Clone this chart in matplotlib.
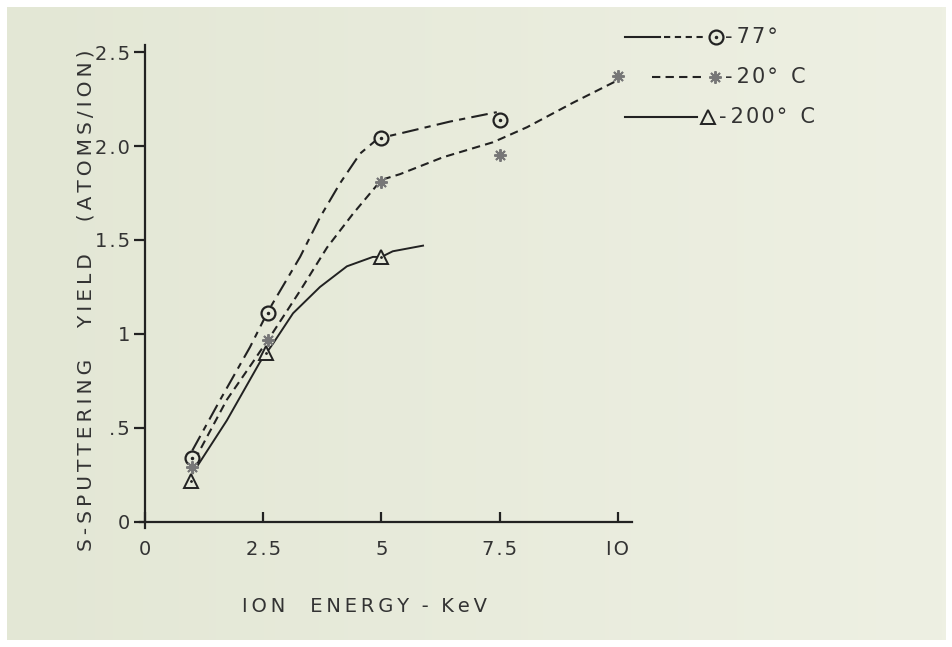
import numpy as np
import matplotlib.pyplot as plt
from matplotlib.lines import Line2D
from matplotlib.colors import LinearSegmentedColormap

# marker values
x_77 = [1.0, 2.6, 5.0, 7.5]
y_77 = [0.34, 1.11, 2.04, 2.14]
x_20 = [1.0, 2.6, 5.0, 7.5, 10.0]
y_20 = [0.29, 0.97, 1.81, 1.95, 2.37]
x_200 = [0.97, 2.55, 5.0]
y_200 = [0.22, 0.90, 1.41]

# hand-drawn curves, points
cx_77 = [1.0, 1.59, 2.22, 2.6, 3.28, 3.70, 4.12, 4.55, 4.93, 5.45, 6.45, 7.44]
cy_77 = [0.38, 0.65, 0.93, 1.12, 1.41, 1.62, 1.80, 1.96, 2.04, 2.07, 2.13, 2.18]
cx_20 = [1.05, 1.73, 2.28, 2.71, 3.28, 3.85, 4.40, 5.0, 5.39, 6.30, 7.36, 8.08, 9.05, 10.0]
cy_20 = [0.33, 0.65, 0.85, 1.01, 1.23, 1.46, 1.64, 1.82, 1.85, 1.94, 2.02, 2.10, 2.23, 2.35]
cx_200 = [1.01, 1.73, 2.43, 2.71, 3.13, 3.70, 4.27, 4.82, 5.0, 5.24, 5.88]
cy_200 = [0.26, 0.54, 0.85, 0.95, 1.11, 1.25, 1.36, 1.41, 1.41, 1.44, 1.47]

x_ticks = [0, 2.5, 5, 7.5, 10]
x_labels = ['0', '2.5', '5', '7.5', 'IO']
y_ticks = [0, 0.5, 1, 1.5, 2.0, 2.5]
y_labels = ['0', '.5', '1', '1.5', '2.0', '2.5']

W, H = 953, 647
paper = '#e7eadb'
ink = '#222222'
text_c = '#333333'


def spaced(s, sp='\u200a'):
    # the hand lettering is wider than DejaVu, so pad the letters a little
    return sp.join(s)


fig = plt.figure(figsize=(W / 100, H / 100), dpi=100)
fig.patch.set_facecolor('white')

# scanned paper background
bg = fig.add_axes([7 / W, 7 / H, 939 / W, 633 / H], zorder=0)
grad = np.linspace(0, 1, 256)[None, :]
bg.imshow(grad, aspect='auto', extent=[0, 1, 0, 1],
          cmap=LinearSegmentedColormap.from_list('paper', ['#e3e7d5', '#eef0e3']))
bg.axis('off')

ax = fig.add_axes([140.3 / W, (H - 527.6) / H, 491.7 / W, 483.1 / H], zorder=1)
ax.patch.set_alpha(0)
ax.set_xlim(-0.1, 10.3)
ax.set_ylim(-0.03, 2.54)

ax.spines['top'].set_visible(False)
ax.spines['right'].set_visible(False)
ax.spines['left'].set_position(('data', 0))
ax.spines['bottom'].set_position(('data', 0))
for s in ['left', 'bottom']:
    ax.spines[s].set_linewidth(1.6)
    ax.spines[s].set_color(ink)

ax.set_xticks(x_ticks)
ax.set_xticklabels([spaced(t) for t in x_labels])
ax.set_yticks(y_ticks)
ax.set_yticklabels([spaced(t) for t in y_labels])
ax.tick_params(axis='x', direction='in', length=7, width=1.6, pad=13,
               labelsize=14, labelcolor=text_c, color=ink)
ax.tick_params(axis='y', direction='out', length=8, width=1.6, pad=3,
               labelsize=14, labelcolor=text_c, color=ink)

# curves
ax.plot(cx_77, cy_77, color=ink, lw=1.5, ls=(0, (8, 3, 3, 3)), zorder=2)
ax.plot(cx_20, cy_20, color=ink, lw=1.5, ls=(0, (4, 2.5)), zorder=2)
ax.plot(cx_200, cy_200, color=ink, lw=1.4, zorder=2)

# markers
ax.plot(x_77, y_77, 'o', ms=10, mfc=paper, mec=ink, mew=1.6, ls='none', zorder=3)
ax.plot(x_77, y_77, '.', ms=3, color=ink, ls='none', zorder=4)
ax.plot(x_20, y_20, 'o', ms=8, mfc=paper, mec='none', ls='none', zorder=3)
ax.plot(x_20, y_20, marker=(8, 2, 0), ms=9, mec='#777777', mew=1.4, ls='none', zorder=4)
ax.plot(x_200, y_200, '^', ms=10, mfc=paper, mec=ink, mew=1.4, ls='none', zorder=3)
ax.plot(x_200, y_200, '.', ms=2, color=ink, ls='none', zorder=4)

xlab = spaced('ION', '\u2009') + '    ' + spaced('ENERGY', '\u2009') + '  -  ' + spaced('KeV', '\u2009')
fig.text(365 / W, 1 - 606 / H, xlab, ha='center', va='center', fontsize=14, color=text_c)
ylab = '     '.join(spaced(w, '\u2009') for w in ['S-SPUTTERING', 'YIELD', '(ATOMS/ION)'])
fig.text(86 / W, 1 - 300 / H, ylab, ha='center', va='center', rotation=90,
         fontsize=14.5, color=text_c)


def fx(px):
    return px / W


def fy(py):
    return 1 - py / H


def fig_line(xs, ys, **kw):
    fig.add_artist(Line2D([fx(v) for v in xs], [fy(v) for v in ys],
                          transform=fig.transFigure, **kw))


# legend drawn by hand like the original
fig_line([625, 660], [37, 37], color=ink, lw=1.5)
fig_line([664, 704], [37, 37], color=ink, lw=1.5, ls=(0, (3, 2.2)))
fig_line([716], [37], marker='o', ms=10, mfc=paper, mec=ink, mew=1.6)
fig_line([716], [37], marker='.', ms=3, color=ink)
fig.text(fx(725), fy(37), '-\u2009' + spaced('77°'), ha='left', va='center',
         fontsize=15, color=text_c)

fig_line([652, 705], [77, 77], color=ink, lw=1.5, ls=(0, (4, 2.5)))
fig_line([715], [77], marker=(8, 2, 0), ms=9, mec='#777777', mew=1.4)
fig.text(fx(725), fy(77), '-\u2009' + spaced('20°') + '  C', ha='left', va='center',
         fontsize=15, color=text_c)

fig_line([625, 697], [117, 117], color=ink, lw=1.5)
fig_line([708], [117], marker='^', ms=10, mfc=paper, mec=ink, mew=1.4)
fig.text(fx(719), fy(117), '-\u2009' + spaced('200°') + '  C', ha='left', va='center',
         fontsize=15, color=text_c)

plt.savefig('out.png', dpi=100)
plt.close()
